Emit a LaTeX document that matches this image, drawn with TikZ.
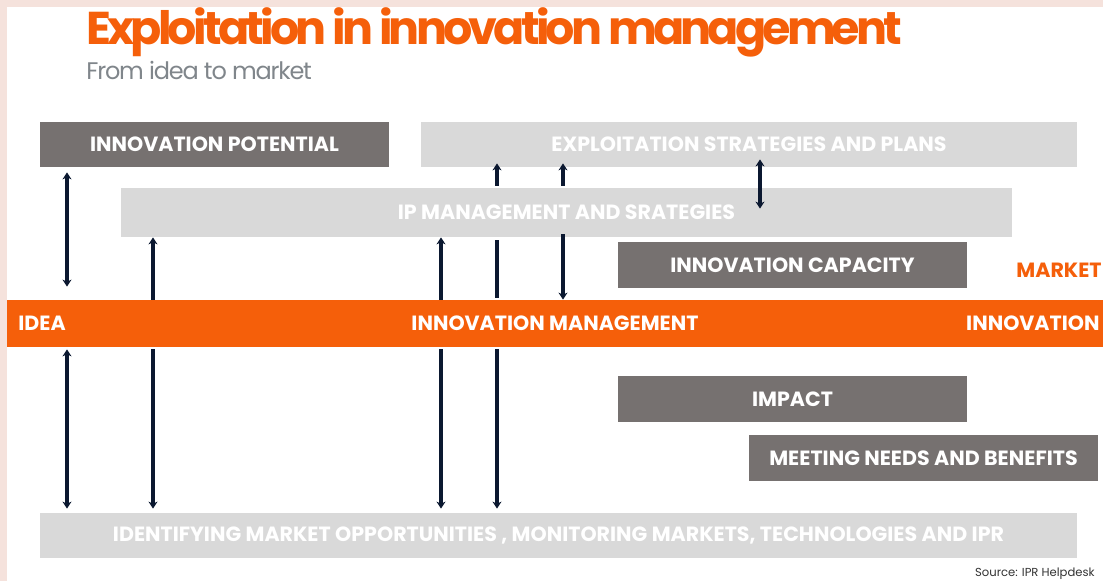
\documentclass[tikz,border=0pt]{standalone}
\usepackage{fontspec}
\setmainfont{Poppins}
\newfontfamily\titlefont[LetterSpace=-8.3]{Poppins}
\newfontfamily\subfont[LetterSpace=-5.0]{Poppins}
\usetikzlibrary{arrows.meta}
\definecolor{ipOrange}{HTML}{F55F0A}
\definecolor{ipDark}{HTML}{767170}
\definecolor{ipLight}{HTML}{D9D9D9}
\definecolor{ipFrame}{HTML}{F5E2DC}
\definecolor{ipSub}{HTML}{80868B}
\definecolor{ipArrow}{HTML}{0B1830}
\tikzset{>={Stealth[length=3.5pt,width=4.5pt]}}
\tikzset{
  box/.style={inner sep=0pt, font=\fontsize{10.3}{12}\selectfont\bfseries, text=white},
  darkbox/.style={box, fill=ipDark},
  lightbox/.style={box, fill=ipLight},
  flow/.style={draw=ipArrow, line width=1.6pt}
}

\begin{document}
\begin{tikzpicture}[x=0.5pt,y=-0.5pt]
          % frame
          \fill[ipFrame] (0,0) rectangle (1103,581);
          \fill[white] (7,7) rectangle (1103,581);
          \useasboundingbox (0,0) rectangle (1103,581);
          % title
          \node[anchor=base west, text=ipOrange, font=\titlefont\fontsize{23}{26}\selectfont\bfseries, inner sep=0pt] (title) at (86,45) {Exploitation in innovation management};
          \node[anchor=base west, text=ipSub, font=\subfont\fontsize{12}{14}\selectfont, inner sep=0pt] (subtitle) at (86,80) {From idea to market};
          % boxes
          \node[darkbox, minimum width=174.5pt, minimum height=22.5pt] (pot) at (214.5,144.5) {INNOVATION POTENTIAL};
          \node[lightbox, minimum width=328pt, minimum height=22.5pt] (expl) at (749,144.5) {EXPLOITATION STRATEGIES AND PLANS};
          \node[lightbox, minimum width=445.5pt, minimum height=24.5pt] (ipm) at (566.5,212.5) {IP MANAGEMENT AND SRATEGIES};
          \node[darkbox, minimum width=174.5pt, minimum height=23pt] (cap) at (792.5,265) {INNOVATION CAPACITY};
          \node[box, text=ipOrange] (market) at (1059,270) {MARKET};
          \fill[ipOrange] (7,300) rectangle (1103,347);
          \node[box, minimum width=548pt, minimum height=23.5pt] (band) at (555,323.5) {INNOVATION MANAGEMENT};
          \node[box, anchor=west] (idea) at (18,323.5) {IDEA};
          \node[box, anchor=east] (innov) at (1100,323.5) {INNOVATION};
          \node[darkbox, minimum width=174.5pt, minimum height=23pt] (impact) at (792.5,399) {IMPACT};
          \node[darkbox, minimum width=174.5pt, minimum height=23pt] (needs) at (923.5,458) {MEETING NEEDS AND BENEFITS};
          \node[lightbox, minimum width=518.5pt, minimum height=22.5pt] (ident) at (558.5,535.5) {IDENTIFYING MARKET OPPORTUNITIES , MONITORING MARKETS, TECHNOLOGIES AND IPR};
          \node[anchor=east, inner sep=0pt, text=black!80, font=\fontsize{5.8}{6}\selectfont] (source) at (1095,574) {Source: IPR Helpdesk};
          % arrows
          \coordinate (c1) at (67,0);
          \coordinate (c2) at (153,0);
          \coordinate (c3) at (441,0);
          \coordinate (c4) at (497,0);
          \coordinate (c5) at (563,0);
          \coordinate (c6) at (760,0);
          \begin{scope}[flow]
            \draw[<->, shorten <=2.5pt, shorten >=6.5pt] (pot.south -| c1) -- (band.north -| c1);
            \draw[<->, shorten <=1pt, shorten >=2pt] (band.south -| c1) -- (ident.north -| c1);
            \draw[->] (band.north -| c2) -- (ipm.south -| c2);
            \draw[->, shorten <=1pt, shorten >=2pt] (band.south -| c2) -- (ident.north -| c2);
            \draw[->] (band.north -| c3) -- (ipm.south -| c3);
            \draw[->, shorten <=1pt, shorten >=2pt] (band.south -| c3) -- (ident.north -| c3);
            \draw[shorten <=1.5pt, shorten >=1pt] (ipm.south -| c4) -- (band.north -| c4);
            \draw[->, shorten <=1pt, shorten >=-2pt] (ipm.north -| c4) -- (expl.south -| c4);
            \draw[->, shorten <=1pt, shorten >=2pt] (band.south -| c4) -- (ident.north -| c4);
            \draw[->, shorten <=1pt, shorten >=-2pt] (ipm.north -| c5) -- (expl.south -| c5);
            \draw[->, shorten <=-1.5pt] (ipm.south -| c5) -- (band.north -| c5);
            \draw[<->, shorten <=-4pt, shorten >=-10.5pt] (expl.south -| c6) -- (ipm.north -| c6);
          \end{scope}
        \end{tikzpicture}
\end{document}
